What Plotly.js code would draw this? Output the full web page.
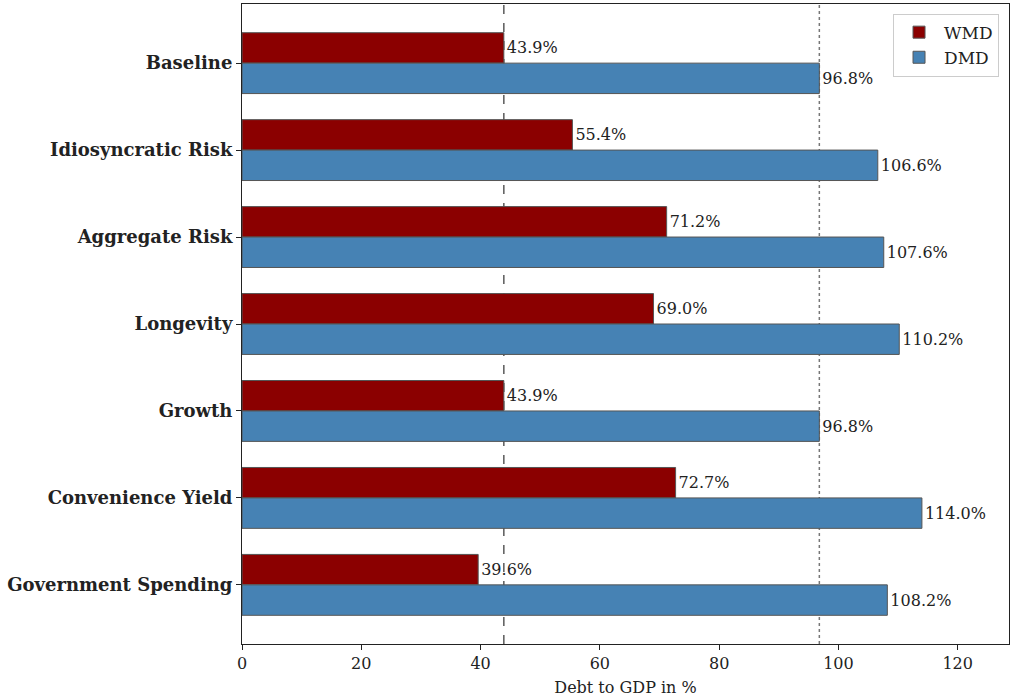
<!DOCTYPE html>
<html>
<head>
<meta charset="utf-8">
<script src="https://cdn.plot.ly/plotly-3.0.1.min.js"></script>
<style>html,body{margin:0;padding:0;background:#fff;}#chart{width:1011px;height:700px;}</style>
</head>
<body>
<div id="chart"></div>
<script>
const categories = ["Baseline", "Idiosyncratic Risk", "Aggregate Risk", "Longevity", "Growth", "Convenience Yield", "Government Spending"];
const wmdValues = [43.9, 55.4, 71.2, 69.0, 43.9, 72.7, 39.6];
const dmdValues = [96.8, 106.6, 107.6, 110.2, 96.8, 114.0, 108.2];
const xTicks = [0, 20, 40, 60, 80, 100, 120];
const wmdRef = wmdValues[0];
const dmdRef = dmdValues[0];

const FONT = "DejaVu Serif, Liberation Serif, serif";
const labelsBold = categories.map(c => "<b>" + c + "</b>");

const common = {
  type: "bar",
  orientation: "h",
  y: labelsBold,
  texttemplate: "%{x:.1f}%",
  textposition: "outside",
  constraintext: "none",
  cliponaxis: false,
  textfont: {family: FONT, size: 16, color: "#222"},
  hoverinfo: "skip"
};

const traces = [
  Object.assign({}, common, {name: "WMD", x: wmdValues, marker: {color: "#8b0000", line: {color: "#555", width: 1}}}),
  Object.assign({}, common, {name: "DMD", x: dmdValues, marker: {color: "#4682b4", line: {color: "#555", width: 1}}})
];

const layout = {
  width: 1011, height: 700,
  margin: {l: 242, r: 2, t: 4, b: 56},
  paper_bgcolor: "#fff", plot_bgcolor: "#fff",
  barmode: "group",
  bargap: 0.3,
  bargroupgap: 0,
  font: {family: FONT, color: "#222"},
  showlegend: true,
  legend: {
    x: 0.987, y: 0.985, xanchor: "right", yanchor: "top",
    bordercolor: "#ccc", borderwidth: 1, bgcolor: "#fff",
    font: {family: FONT, size: 17, color: "#222"},
    itemwidth: 40,
    traceorder: "normal"
  },
  xaxis: {
    range: [0, 128.6],
    tickvals: xTicks,
    ticktext: xTicks.map(String),
    ticks: "outside", ticklen: 5, tickcolor: "#222", tickwidth: 1,
    showgrid: false, zeroline: false,
    showline: true, linecolor: "#222", linewidth: 1, mirror: true,
    tickfont: {family: FONT, size: 16, color: "#222"},
    title: {text: "Debt to GDP in %", font: {family: FONT, size: 16, color: "#222"}, standoff: 9}
  },
  yaxis: {
    type: "category",
    categoryorder: "array",
    categoryarray: labelsBold,
    range: [6.68, -0.68],
    ticks: "outside", ticklen: 5, tickcolor: "#222", tickwidth: 1,
    showgrid: false, zeroline: false,
    showline: true, linecolor: "#222", linewidth: 1, mirror: true,
    tickfont: {family: FONT, size: 18, color: "#222"}
  },
  shapes: [
    {type: "line", xref: "x", yref: "paper", x0: wmdRef, x1: wmdRef, y0: 0, y1: 1,
     line: {color: "#5a5a5a", width: 1.5, dash: "dash"}, layer: "below"},
    {type: "line", xref: "x", yref: "paper", x0: dmdRef, x1: dmdRef, y0: 0, y1: 1,
     line: {color: "#777", width: 1.5, dash: "dot"}, layer: "below"}
  ]
};

Plotly.newPlot("chart", traces, layout, {displayModeBar: false, staticPlot: true});
</script>
</body>
</html>
